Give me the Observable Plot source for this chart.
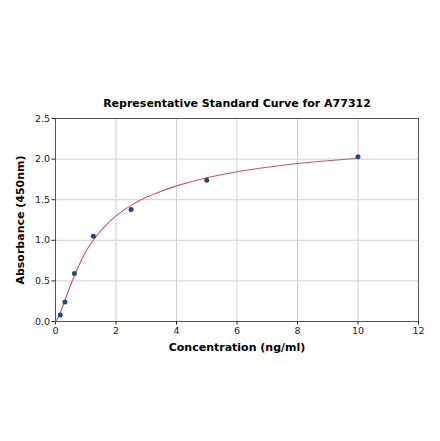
<!DOCTYPE html>
<html lang="en">
<head>
    <meta charset="UTF-8">
    <title>Representative Standard Curve for A77312</title>
    <script src="https://cdn.jsdelivr.net/npm/d3@7"></script>
    <script src="https://cdn.jsdelivr.net/npm/@observablehq/plot@0.6"></script>
    <style>
        html, body { margin: 0; padding: 0; background: white; }
        #chart svg [aria-label="x-axis label"] text,
        #chart svg [aria-label="y-axis label"] text { font-weight: bold; font-size: 11px; fill: #000; }
    </style>
</head>
<body>
    <div id="chart"></div>

    <script>
        // standard points (ng/ml -> OD 450nm)
        const conc = [0.156, 0.312, 0.625, 1.25, 2.5, 5, 10];
        const absorb = [0.08, 0.24, 0.59, 1.05, 1.38, 1.74, 2.03];

        // fitted curve
        const fitConc = [0, 0.125, 0.25, 0.5, 0.75, 1, 1.25, 1.5, 2, 2.5, 3, 3.5, 4, 5, 6, 7, 8, 9, 10];
        const fitAbs = [0, 0.075, 0.2, 0.45, 0.67, 0.86, 1.0, 1.12, 1.3, 1.43, 1.53, 1.605, 1.67, 1.77, 1.845, 1.9, 1.945, 1.98, 2.01];

        const xTicks = [0, 2, 4, 6, 8, 10, 12];
        const yTicks = [0, 0.5, 1.0, 1.5, 2.0, 2.5];

        const titre = "Representative Standard Curve for A77312";

        const points = conc.map((c, i) => ({ x: c, y: absorb[i] }));
        const fit = fitConc.map((c, i) => ({ x: c, y: fitAbs[i] }));

        const chart = Plot.plot({
            width: 440,
            height: 441,
            marginLeft: 55,
            marginRight: 22,
            marginTop: 118,
            marginBottom: 120,
            style: { fontFamily: "DejaVu Sans", fontSize: "9.5px", color: "#222", background: "white" },
            x: { domain: [0, 12] },
            y: { domain: [0, 2.5] },
            marks: [
                Plot.gridX(xTicks, { stroke: "#cfcfcf", strokeOpacity: 1 }),
                Plot.gridY(yTicks, { stroke: "#cfcfcf", strokeOpacity: 1 }),
                Plot.frame({ stroke: "#555" }),
                Plot.axisX(xTicks, {
                    tickSize: 3.5, tickPadding: 2, tickFormat: d => d,
                    label: "Concentration (ng/ml)", labelAnchor: "center", labelArrow: "none", labelOffset: 29
                }),
                Plot.axisY(yTicks, {
                    tickSize: 3.5, tickPadding: 2, tickFormat: d3.format(".1f"),
                    label: "Absorbance (450nm)", labelAnchor: "center", labelArrow: "none", labelOffset: 39
                }),
                Plot.line(fit, { x: "x", y: "y", stroke: "#bb5a74", strokeWidth: 1.1, curve: "catmull-rom" }),
                Plot.dot(points, { x: "x", y: "y", r: 2.5, fill: "#2c4868", stroke: "none" }),
                Plot.text([titre], { frameAnchor: "top", dy: -19, fontWeight: "bold", fontSize: 11, fill: "#000" })
            ]
        });

        document.getElementById("chart").appendChild(chart);
    </script>
</body>
</html>
